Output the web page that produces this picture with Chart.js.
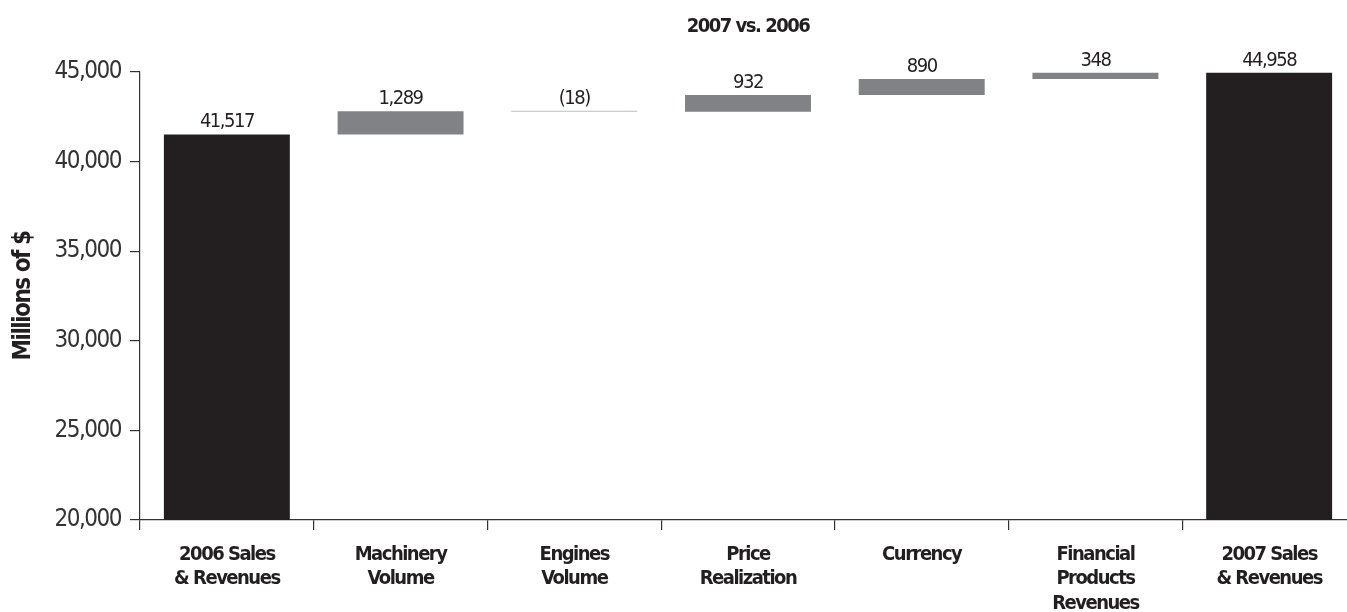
<!DOCTYPE html>
<html>
<head>
<meta charset="utf-8">
<script src="https://cdn.jsdelivr.net/npm/chart.js@4"></script>
<style>
  html, body { margin: 0; padding: 0; background: #fff; overflow: hidden; }
  #wrap { width: 1356px; height: 612px; }
</style>
</head>
<body>
<div id="wrap"><canvas id="c" width="1356" height="612"></canvas></div>
<script>
const categories = [
  ['2006 Sales', '& Revenues'],
  ['Machinery', 'Volume'],
  ['Engines', 'Volume'],
  ['Price', 'Realization'],
  ['Currency'],
  ['Financial', 'Products', 'Revenues'],
  ['2007 Sales', '& Revenues']
];
const changes = [41517, 1289, -18, 932, 890, 348, 44958];
const isTotal = [true, false, false, false, false, false, true];
const valueLabels = ['41,517', '1,289', '(18)', '932', '890', '348', '44,958'];
const yTicks = [20000, 25000, 30000, 35000, 40000, 45000];
const chartTitle = '2007 vs. 2006';
const yTitle = 'Millions of $';

const barColors = ['#231f20', '#808285', '#bcbec0', '#808285', '#808285', '#808285', '#231f20'];

// build floating ranges from the change values
const ranges = [];
let running = 0;
changes.forEach((v, i) => {
  if (isTotal[i]) { ranges.push([0, v]); running = v; }
  else { ranges.push([running, running + v]); running += v; }
});

const FONT = "'Liberation Sans Narrow', 'Arial Narrow', 'DejaVu Sans Condensed', 'Liberation Sans', sans-serif";
const TXT = '#231f20';

const condensePlugin = {
  id: 'condense',
  beforeDraw(chart) {
    try { chart.ctx.letterSpacing = '-1.5px'; } catch (e) {}
  }
};

const valueLabelPlugin = {
  id: 'valueLabels',
  afterDatasetsDraw(chart) {
    const ctx = chart.ctx;
    const meta = chart.getDatasetMeta(0);
    ctx.save();
    ctx.font = "20px " + FONT;
    ctx.fillStyle = TXT;
    ctx.textAlign = 'center';
    ctx.textBaseline = 'alphabetic';
    meta.data.forEach((bar, i) => {
      const top = Math.min(bar.y, bar.base);
      ctx.fillText(valueLabels[i], bar.x, top - 7);
    });
    ctx.restore();
  }
};

new Chart(document.getElementById('c'), {
  type: 'bar',
  data: {
    labels: categories,
    datasets: [{
      data: ranges,
      backgroundColor: barColors,
      borderWidth: 0,
      barPercentage: 0.725,
      categoryPercentage: 1.0,
      minBarLength: 1
    }]
  },
  options: {
    responsive: false,
    animation: false,
    devicePixelRatio: 1,
    layout: { padding: 0 },
    plugins: {
      legend: { display: false },
      tooltip: { enabled: false },
      title: {
        display: true,
        text: chartTitle,
        fullSize: false,
        color: TXT,
        font: { family: FONT, size: 20, weight: 'bold', lineHeight: 1.2 },
        padding: { top: 15, bottom: 33 }
      }
    },
    scales: {
      x: {
        offset: true,
        border: { display: true, color: '#333', width: 1.2 },
        grid: { display: true, drawOnChartArea: false, drawTicks: true, tickLength: 10, color: '#333', lineWidth: 1.2, offset: true },
        ticks: {
          color: TXT,
          padding: 12,
          maxRotation: 0,
          autoSkip: false,
          font: { family: FONT, size: 20, weight: 'bold', lineHeight: 1.24 }
        },
        afterFit(s) { s.height = 92; }
      },
      y: {
        min: 20000,
        max: 45000,
        afterBuildTicks(s) { s.ticks = yTicks.map(v => ({ value: v })); },
        border: { display: true, color: '#333', width: 1.2 },
        grid: { display: true, drawOnChartArea: false, drawTicks: true, tickLength: 10, color: '#333', lineWidth: 1.2 },
        ticks: {
          color: '#333',
          padding: 9,
          font: { family: FONT, size: 24, weight: 'normal' },
          callback: v => v.toLocaleString('en-US')
        },
        title: {
          display: true,
          text: yTitle,
          color: TXT,
          font: { family: FONT, size: 24, weight: 'bold' },
          padding: { top: 9, bottom: 0 }
        },
        afterFit(s) { s.width = 140; }
      }
    }
  },
  plugins: [condensePlugin, valueLabelPlugin]
});
</script>
</body>
</html>
